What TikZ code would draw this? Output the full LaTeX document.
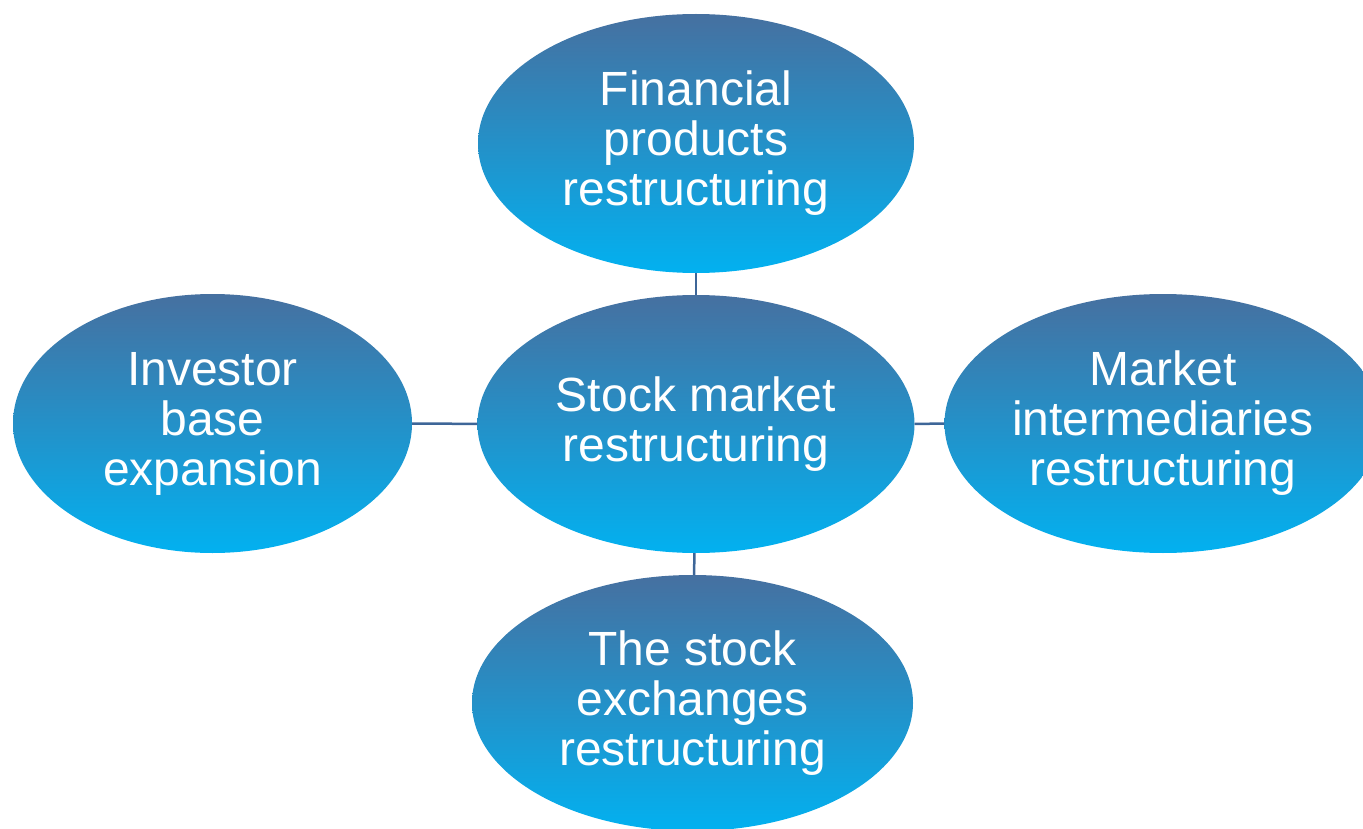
\documentclass[tikz,border=0pt]{standalone}
\usepackage{fontspec}
\setmainfont{Liberation Sans}
\usetikzlibrary{shapes.geometric}
\definecolor{topblue}{HTML}{4670A0}
\definecolor{midblue}{HTML}{3590CB}
\definecolor{botblue}{HTML}{02B1F0}
\definecolor{linkblue}{HTML}{3E6698}
\tikzset{
  bubble/.style={ellipse, inner sep=0pt, top color=topblue, middle color=midblue, bottom color=botblue,
    text=white, align=center, font=\fontsize{48}{50}\selectfont},
  link/.style={draw=linkblue, line width=2.5pt}
}
\begin{document}
\begin{tikzpicture}[x=1pt,y=-1pt]
\useasboundingbox (0,0) rectangle (1363,829);
\clip (0,0) rectangle (1363,829);
\node[bubble, minimum width=437pt, minimum height=258pt] (c) at (696,424) {Stock market\\restructuring};
\node[bubble, minimum width=436pt, minimum height=259pt] (t) at (696,143.5) {Financial\\products\\restructuring};
\node[bubble, minimum width=399pt, minimum height=259pt] (l) at (212.5,423.5) {Investor\\base\\expansion};
\node[bubble, minimum width=437pt, minimum height=259pt] (r) at (1163,423.5) {Market\\intermediaries\\restructuring};
\node[bubble, minimum width=441pt, minimum height=256pt] (b) at (692.5,703) {The stock\\exchanges\\restructuring};
\draw[link] (c) -- (t);
\draw[link] (c) -- (l);
\draw[link] (c) -- (r);
\draw[link] (c) -- (b);
\end{tikzpicture}
\end{document}
